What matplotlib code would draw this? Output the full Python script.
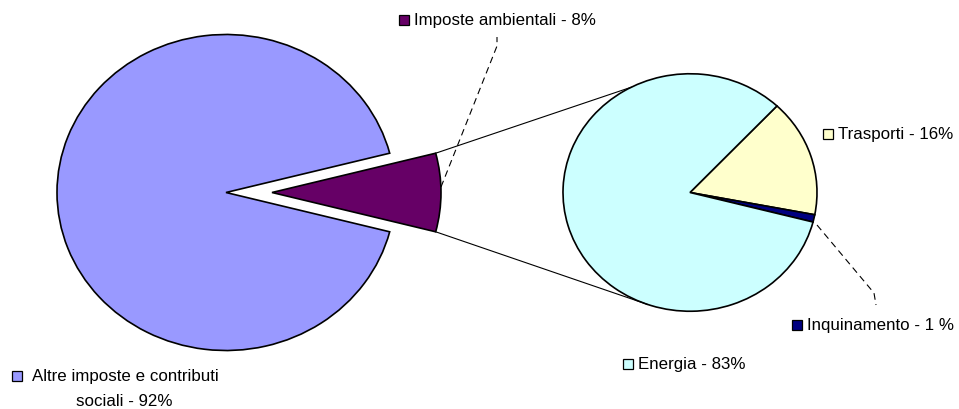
import matplotlib
matplotlib.use("Agg")
import matplotlib.pyplot as plt
from matplotlib.patches import Rectangle
import numpy as np

plt.rcParams['font.family'] = ['Liberation Sans', 'DejaVu Sans']

# Main breakdown of tax revenue
main_names = ['Altre imposte e contributi\nsociali', 'Imposte ambientali']
main_values = [92, 8]
main_colors = ['#9999FF', '#660066']

# Breakdown of environmental taxes
sub_names = ['Trasporti', 'Inquinamento', 'Energia']
sub_values = [16, 1, 83]
sub_colors = ['#FFFFCC', '#000080', '#CCFFFF']
sub_pct_gap = ['', ' ', '']

W, H = 959, 410
SY = 0.935  # vertical squash of the pies

fig = plt.figure(figsize=(W / 100, H / 100), dpi=100)
ax = fig.add_axes([0, 0, 1, 1])


def to_data(xi, yi):
    return xi, (H - yi) / SY


wp = dict(edgecolor='black', linewidth=1.2)

# primary pie
r_main = 169
c_main = to_data(226, 193.5)
half_small = main_values[1] / sum(main_values) * 180.0
explode_off = 46
ax.pie(main_values, colors=main_colors, startangle=half_small, counterclock=True,
       explode=[0, explode_off], radius=r_main, center=c_main, wedgeprops=wp,
       frame=True)

# secondary pie
r_sub = 127
c_sub = to_data(690, 193.5)
ax.pie(sub_values, colors=sub_colors, startangle=46.8, counterclock=False,
       radius=r_sub, center=c_sub, wedgeprops=wp, frame=True)

# connectors between the exploded slice and the secondary pie
apex = (c_main[0] + explode_off, c_main[1])
for a_from, a_to in [(half_small, 117.5), (-half_small, 250.5)]:
    p0 = (apex[0] + r_main * np.cos(np.radians(a_from)),
          apex[1] + r_main * np.sin(np.radians(a_from)))
    p1 = (c_sub[0] + r_sub * np.cos(np.radians(a_to)),
          c_sub[1] + r_sub * np.sin(np.radians(a_to)))
    ax.plot([p0[0], p1[0]], [p0[1], p1[1]], color='black', lw=0.8)

ax.set_xlim(0, W)
ax.set_ylim(0, H / SY)
ax.set_aspect('auto')
ax.axis('off')

# labels layer in pixel coordinates
ax2 = fig.add_axes([0, 0, 1, 1], facecolor='none')
ax2.set_xlim(0, W)
ax2.set_ylim(H, 0)
ax2.axis('off')

FS = 12.2


def key_label(x_sq, y_c, color, text):
    ax2.add_patch(Rectangle((x_sq, y_c - 5), 10, 10, facecolor=color,
                            edgecolor='black', lw=0.9))
    ax2.text(x_sq + 15, y_c, text, fontsize=FS, va='center', ha='left')


key_label(399, 21, main_colors[1], f"{main_names[1]} - {main_values[1]}%")
key_label(823, 135, sub_colors[0], f"{sub_names[0]} - {sub_pct_gap[0]}{sub_values[0]}%")
key_label(792, 326, sub_colors[1], f"{sub_names[1]} - {sub_values[1]}{sub_pct_gap[1]}%")
key_label(623, 365, sub_colors[2], f"{sub_names[2]} - {sub_values[2]}%")

# two-line label for the large slice
ax2.add_patch(Rectangle((12, 372), 10, 10, facecolor=main_colors[0],
                        edgecolor='black', lw=0.9))
first, second = main_names[0].split('\n')
ax2.text(125, 377, first, fontsize=FS, va='center', ha='center')
ax2.text(124, 402, f"{second} - {main_values[0]}%", fontsize=FS, va='center', ha='center')

# leader lines
ax2.plot([441, 497, 497], [188, 47, 38], color='black', lw=0.8, ls=(0, (6, 4)))
ax2.plot([817, 874, 876], [226, 294, 306], color='black', lw=0.8, ls=(0, (6, 4)))

fig.savefig('out.png', dpi=100)
